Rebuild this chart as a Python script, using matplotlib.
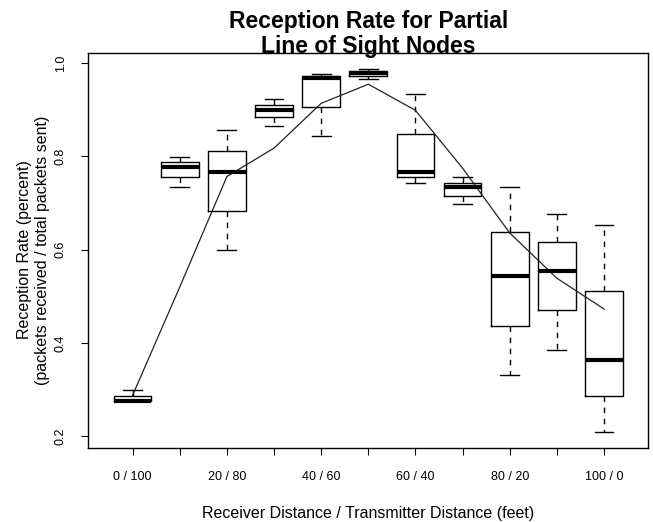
import matplotlib
matplotlib.use("Agg")
import matplotlib.pyplot as plt

plt.rcParams['font.family'] = ['Liberation Sans', 'DejaVu Sans']

positions = list(range(1, 12))
tick_labels = ["0 / 100", "", "20 / 80", "", "40 / 60", "", "60 / 40", "", "80 / 20", "", "100 / 0"]

whisker_low = [0.275, 0.734, 0.600, 0.866, 0.844, 0.966, 0.744, 0.699, 0.332, 0.386, 0.209]
q1 = [0.275, 0.756, 0.683, 0.884, 0.906, 0.973, 0.756, 0.716, 0.437, 0.471, 0.286]
median = [0.276, 0.777, 0.766, 0.899, 0.968, 0.979, 0.766, 0.734, 0.543, 0.555, 0.364]
q3 = [0.287, 0.788, 0.812, 0.911, 0.973, 0.984, 0.849, 0.744, 0.638, 0.616, 0.511]
whisker_high = [0.299, 0.799, 0.856, 0.923, 0.977, 0.988, 0.935, 0.756, 0.734, 0.676, 0.654]

line_values = [0.288, 0.520, 0.757, 0.818, 0.914, 0.955, 0.899, 0.775, 0.636, 0.539, 0.473]

W, H = 653, 522
fig = plt.figure(figsize=(W / 100, H / 100), dpi=100)
ax = fig.add_axes([88.3 / W, 1 - 447.7 / H, (648.3 - 88.3) / W, (447.7 - 53.3) / H])

stats = []
for i in range(len(positions)):
    stats.append(dict(whislo=whisker_low[i], q1=q1[i], med=median[i], q3=q3[i],
                      whishi=whisker_high[i], fliers=[]))

ax.bxp(stats, positions=positions, widths=0.8, capwidths=0.4, showfliers=False,
       boxprops=dict(color='black', linewidth=1.0),
       medianprops=dict(color='black', linewidth=3.0, solid_capstyle='butt'),
       whiskerprops=dict(color='black', linewidth=1.0, linestyle=(0, (4, 4))),
       capprops=dict(color='black', linewidth=1.0),
       manage_ticks=False)

ax.plot(positions, line_values, color='#222222', linewidth=0.9)

ax.set_xlim(0.06, 11.94)
ax.set_ylim(0.1755, 1.0213)
ax.set_xticks(positions)
ax.set_xticklabels(tick_labels, fontsize=9)
ax.set_yticks([0.2, 0.4, 0.6, 0.8, 1.0])
ax.set_yticklabels(["0.2", "0.4", "0.6", "0.8", "1.0"], fontsize=9, rotation=90, va='center')
ax.tick_params(axis='x', length=5, width=0.8, pad=11.5)
ax.tick_params(axis='y', length=5, width=0.8, pad=10.5)
for s in ax.spines.values():
    s.set_linewidth(1.0)

fig.text(368.3 / W, 1 - 518 / H, "Receiver Distance / Transmitter Distance (feet)",
         ha='center', va='baseline', fontsize=11.5)
fig.text(24 / W, 1 - 250 / H, "Reception Rate (percent)", ha='center', va='center',
         rotation=90, fontsize=11.5)
fig.text(43 / W, 1 - 250 / H, "(packets received / total packets sent)", ha='center',
         va='center', rotation=90, fontsize=11.5)
fig.text(368.3 / W, 1 - 27.7 / H, "Reception Rate for Partial",
         ha='center', va='baseline', fontsize=16.5, fontweight='bold')
fig.text(368.3 / W, 1 - 53.3 / H, "Line of Sight Nodes",
         ha='center', va='baseline', fontsize=16.5, fontweight='bold')

fig.savefig("out.png", dpi=100)
